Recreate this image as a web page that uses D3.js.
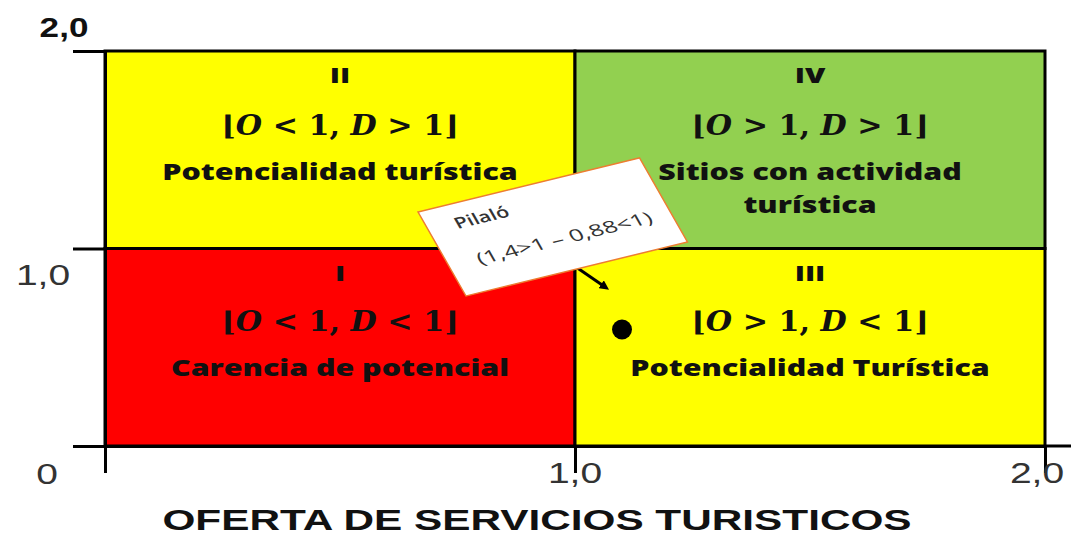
<!DOCTYPE html>
<html>
<head>
<meta charset="utf-8">
<script src="https://cdn.jsdelivr.net/npm/d3@7"></script>
<style>
  html, body { margin: 0; padding: 0; background: #fff; }
  svg { display: block; }
</style>
</head>
<body>
<script>
// chart data
var quadNames = ["I", "II", "III", "IV"];
var quadX0 = [0, 0, 1, 1];
var quadY0 = [0, 1, 0, 1];
var quadColors = ["#ff0000", "#ffff00", "#ffff00", "#92d050"];
var quadO = ["<", "<", ">", ">"];
var quadD = ["<", ">", "<", ">"];
var quadLabels = [
  ["Carencia de potencial"],
  ["Potencialidad turística"],
  ["Potencialidad Turística"],
  ["Sitios con actividad", "turística"]
];
var tickValues = [0, 1, 2];
var xTickLabels = ["0", "1,0", "2,0"];
var yTickLabels = ["0", "1,0", "2,0"];
var xTitle = "OFERTA DE SERVICIOS TURISTICOS";

var pointName = "Pilaló";
var pointNote = "(1,4>1 – 0,88<1)";
var pointX = [1.10];
var pointY = [0.59];
var calloutAt = [0.666, 1.185];        // upper left corner of the note
var arrowFrom = [1.006, 0.90];
var arrowTo = [1.064, 0.805];

var width = 1071, height = 538;
var SX = 1.3; // the picture is stretched sideways

var svg = d3.select("body").append("svg")
    .attr("width", width)
    .attr("height", height)
    .attr("xmlns", "http://www.w3.org/2000/svg");

var x = d3.scaleLinear().domain([0, 2]).range([105, 1045]);
var y = d3.scaleLinear().domain([0, 2]).range([446, 51]);

svg.append("defs").append("marker")
    .attr("id", "head")
    .attr("viewBox", "0 0 10 10")
    .attr("refX", 5).attr("refY", 5)
    .attr("markerWidth", 3.2).attr("markerHeight", 3.2)
    .attr("orient", "auto")
  .append("path")
    .attr("d", "M0,0L10,5L0,10z")
    .attr("fill", "#000");

// quadrants
var quads = svg.append("g").selectAll("g")
    .data(quadNames)
    .enter().append("g");

quads.append("rect")
    .attr("x", function(d, i) { return x(quadX0[i]); })
    .attr("y", function(d, i) { return y(quadY0[i] + 1); })
    .attr("width", function(d, i) { return x(quadX0[i] + 1) - x(quadX0[i]); })
    .attr("height", function(d, i) { return y(quadY0[i]) - y(quadY0[i] + 1); })
    .attr("fill", function(d, i) { return quadColors[i]; })
    .attr("stroke", "#000")
    .attr("stroke-width", 3);

function stretched(g, txt, cx, cy, sx) {
  return g.append("text")
      .attr("transform", "translate(" + cx + "," + cy + ") scale(" + sx + ",1)")
      .attr("text-anchor", "middle")
      .text(txt);
}

var quadFont = "'Open Sans', sans-serif";

quads.each(function(d, i) {
  var g = d3.select(this);
  var cx = x(quadX0[i] + 0.5);
  var top = y(quadY0[i] + 1);
  var low = quadY0[i] === 0 ? -2 : 0;

  stretched(g, d, cx, top + 32, 1.4)
      .style("font-family", quadFont)
      .style("font-weight", "800")
      .style("font-size", "21px")
      .attr("fill", "#111");

  var f = g.append("text")
      .attr("transform", "translate(" + cx + "," + (top + 84 + low) + ") scale(1.12,1)")
      .attr("text-anchor", "middle")
      .style("font-family", "'DejaVu Serif', serif")
      .style("font-weight", "bold")
      .style("font-size", "27px")
      .attr("fill", "#111");
  f.append("tspan").text("⌊");
  f.append("tspan").style("font-style", "italic").text("O");
  f.append("tspan").text(" " + quadO[i] + " 1, ");
  f.append("tspan").style("font-style", "italic").text("D");
  f.append("tspan").text(" " + quadD[i] + " 1⌋");

  quadLabels[i].forEach(function(line, k) {
    stretched(g, line, cx, top + 129 + low + k * 33, 1.38)
        .style("font-family", quadFont)
        .style("font-weight", "800")
        .style("font-size", "22px")
        .attr("fill", "#111");
  });
});

// axes
var axisX = svg.append("g")
    .attr("transform", "translate(0," + y(0) + ")")
    .call(d3.axisBottom(x).tickValues(tickValues).tickSize(27).tickSizeOuter(0).tickFormat(""));
var axisY = svg.append("g")
    .attr("transform", "translate(" + x(0) + ",0)")
    .call(d3.axisLeft(y).tickValues(tickValues).tickSize(32).tickSizeOuter(0).tickFormat(""));
svg.selectAll(".domain, .tick line")
    .attr("stroke", "#000")
    .attr("stroke-width", 3);
axisX.append("line")
    .attr("x1", x(2)).attr("x2", width)
    .attr("stroke", "#000")
    .attr("stroke-width", 3);

// tick labels
var tickFont = "'Liberation Sans', Arial, sans-serif";
xTickLabels.forEach(function(t, i) {
  if (i === 0) return;
  stretched(svg, t, x(tickValues[i]) - (i === 2 ? 8 : 0), 483, SX)
      .style("font-family", tickFont)
      .style("font-size", "30px")
      .attr("fill", "#333");
});
stretched(svg, yTickLabels[0], 47, 484, SX)
    .style("font-family", tickFont)
    .style("font-size", "30px")
    .attr("fill", "#333");
stretched(svg, yTickLabels[1], 43, y(tickValues[1]) + 36, SX)
    .style("font-family", tickFont)
    .style("font-size", "30px")
    .attr("fill", "#333");
stretched(svg, yTickLabels[2], 64, y(tickValues[2]) - 14, SX)
    .style("font-family", tickFont)
    .style("font-weight", "bold")
    .style("font-size", "27px")
    .attr("fill", "#111");

// axis title
stretched(svg, xTitle, 537, 530, 1.46)
    .style("font-family", tickFont)
    .style("font-weight", "bold")
    .style("font-size", "29px")
    .attr("fill", "#111");

// point
svg.append("g").selectAll("circle")
    .data(pointX)
    .enter().append("circle")
    .attr("cx", function(d) { return x(d); })
    .attr("cy", function(d, i) { return y(pointY[i]); })
    .attr("r", 10)
    .attr("fill", "#000");

// note with arrow
svg.append("line")
    .attr("x1", x(arrowFrom[0])).attr("y1", y(arrowFrom[1]))
    .attr("x2", x(arrowTo[0])).attr("y2", y(arrowTo[1]))
    .attr("stroke", "#000")
    .attr("stroke-width", 3)
    .attr("marker-end", "url(#head)");

var note = svg.append("g")
    .attr("transform", "translate(" + x(calloutAt[0]) + "," + y(calloutAt[1]) + ") rotate(-13.7) skewX(16)");
note.append("rect")
    .attr("width", 228)
    .attr("height", 93)
    .attr("fill", "#fff")
    .attr("stroke", "#ed7d31")
    .attr("stroke-width", 1.5);
note.append("text")
    .attr("transform", "translate(27,26) scale(1.3,1)")
    .style("font-family", "'Open Sans', sans-serif")
    .style("font-weight", "600")
    .style("font-size", "16px")
    .attr("fill", "#333")
    .text(pointName);
note.append("text")
    .attr("transform", "translate(29,66) scale(1.45,1)")
    .style("font-family", "'Open Sans', sans-serif")
    .style("font-size", "17px")
    .attr("fill", "#333")
    .text(pointNote);
</script>
</body>
</html>
